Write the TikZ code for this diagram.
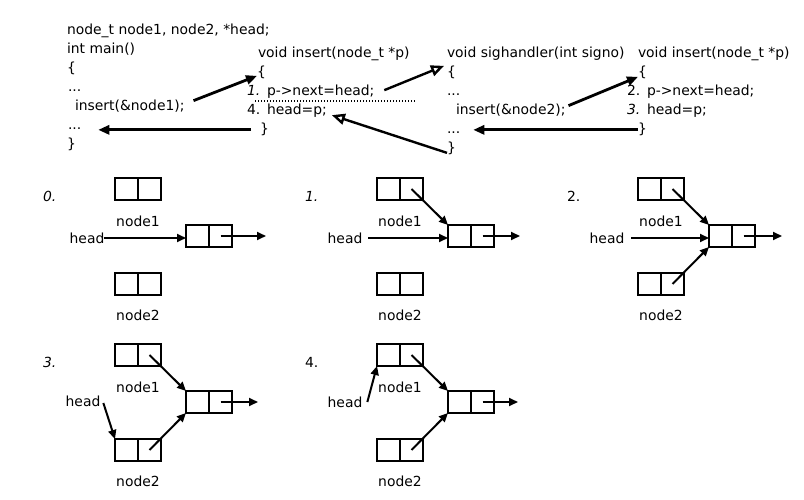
\documentclass[tikz,border=0pt]{standalone}
\usepackage{fontspec}
\setmainfont{DejaVu Sans}
\usetikzlibrary{arrows.meta,calc}
\newcommand\lldiag[3]{%
\begin{scope}[shift={#2}]
  \node[cell] (#1a) at (138,189) {};
  \node[cell] (#1b) at (138,284) {};
  \node[cell] (#1r) at (209,236) {};
  \draw[divider] (#1a.north) -- (#1a.south);
  \draw[divider] (#1b.north) -- (#1b.south);
  \draw[divider] (#1r.north) -- (#1r.south);
  \node[lbl] (#1al) at (138,221) {node1};
  \node[lbl] (#1bl) at (138,315) {node2};
  \coordinate (#1o) at (#3,236);
  \draw[arr] ($(#1r.center)!0.5!(#1r.east)$) -- (#1o);
\end{scope}}
\begin{document}
\begin{tikzpicture}[x=1pt,y=-1pt,
  every node/.style={inner sep=0pt, outer sep=0pt, font=\fontsize{13.9}{16}\selectfont},
  code/.style={anchor=base west},
  cell/.style={draw, line width=2.5pt, minimum width=46pt, minimum height=22pt},
  divider/.style={line width=2.5pt},
  lbl/.style={anchor=center},
  num/.style={anchor=base west, font=\fontsize{13.9}{16}\selectfont\itshape},
  bigarr/.style={line width=2.8pt, -{Triangle[length=11pt,width=9pt]}},
  openarr/.style={line width=2.4pt, -{Triangle[open,length=13pt,width=11pt]}},
  arr/.style={line width=2pt, -{Triangle[length=9pt,width=8pt]}},
]
\useasboundingbox (0,0) rectangle (804,500);
% column 1
\node[code] (c1a) at (67,35) {node\_t node1, node2, *head;};
\node[code] (c1b) at (67,54) {int main()};
\node[code] (bo1) at (67,73) {\{};
\node[code] (d11) at (68,92) {...};
\node[code] (ins1) at (75,111) {insert(\&node1);};
\node[code] (d12) at (68,130) {...};
\node[code] (bc1) at (67,149) {\}};
% column 2
\node[code] (h2) at (258,58) {void insert(node\_t *p)};
\node[code] (bo2) at (257,77) {\{};
\node[num] (n1) at (247,96) {1.};
\node[code] (pn2) at (267,96) {p->next=head;};
\node[code] (n4) at (247,115) {4.};
\node[code] (hp2) at (267,115) {head=p;};
\node[code] (bc2) at (260,134) {\}};
\coordinate (dl1) at (255,101);
\coordinate (dl2) at (415,101);
\draw[line width=1.2pt, dash pattern=on 1.2pt off 1.8pt] (dl1) -- (dl2);
% column 3
\node[code] (h3) at (447,58) {void sighandler(int signo)};
\node[code] (bo3) at (447,77) {\{};
\node[code] (d31) at (447,96) {...};
\node[code] (ins2) at (456,115) {insert(\&node2);};
\node[code] (d32) at (447,134) {...};
\node[code] (bc3) at (447,153) {\}};
% column 4
\node[code] (h4) at (638,58) {void insert(node\_t *p)};
\node[code] (bo4) at (638,77) {\{};
\node[code] (n2) at (627,96) {2.};
\node[code] (pn4) at (647,96) {p->next=head;};
\node[num] (n3) at (627,115) {3.};
\node[code] (hp4) at (647,115) {head=p;};
\node[code] (bc4) at (638,134) {\}};
% top arrows
\draw[bigarr] ([xshift=9pt,yshift=6pt]ins1.east) -- ([yshift=-3pt]bo2.west);
\draw[bigarr] ([xshift=-9pt]bc2.west) -- ($(bc2.west -| d12.east)+(17,0)$);
\draw[openarr] ([xshift=10pt,yshift=2pt]pn2.east) -- ([xshift=-3pt,yshift=7pt]bo3.west);
\draw[openarr] ([yshift=-4pt]bc3.west) -- ([xshift=5pt,yshift=-4pt]hp2.east);
\draw[bigarr] ([xshift=3pt,yshift=5pt]ins2.east) -- ([yshift=-4pt]bo4.west);
\draw[bigarr] (bc4.west) -- ($(bc4.west -| d32.east)+(13,0)$);
% step labels
\node[num] (l0) at (43,202) {0.};
\node[num] (l1) at (305,202) {1.};
\node[code] (l2) at (567,202) {2.};
\node[num] (l3) at (43,367) {3.};
\node[code] (l4) at (305,367) {4.};
% diagram 0
\lldiag{d0}{(0,0)}{266}
\node[lbl] (d0h) at (87,238) {head};
\draw[arr] (d0h.east) -- (d0h.east -| d0r.west);
% diagram 1
\lldiag{d1}{(262,0)}{258}
\node[lbl] (d1h) at (345,238) {head};
\draw[arr] ([xshift=6pt]d1h.east) -- (d1h.east -| d1r.west);
\draw[arr] ($(d1a.center)!0.5!(d1a.east)$) -- (d1r.north west);
% diagram 2
\lldiag{d2}{(523,0)}{259}
\node[lbl] (d2h) at (607,238) {head};
\draw[arr] ([xshift=7pt]d2h.east) -- (d2h.east -| d2r.west);
\draw[arr] ($(d2a.center)!0.5!(d2a.east)$) -- (d2r.north west);
\draw[arr] ($(d2b.center)!0.5!(d2b.east)$) -- (d2r.south west);
% diagram 3
\lldiag{d3}{(0,166)}{258}
\node[lbl] (d3h) at (83,401) {head};
\draw[arr] ([xshift=3pt,yshift=-2pt]d3h.east) -- (d3b.north west);
\draw[arr] ($(d3a.center)!0.5!(d3a.east)$) -- (d3r.north west);
\draw[arr] ($(d3b.center)!0.5!(d3b.east)$) -- (d3r.south west);
% diagram 4
\lldiag{d4}{(262,166)}{256}
\node[lbl] (d4h) at (345,402) {head};
\draw[arr] ([xshift=5pt]d4h.east) -- (d4a.south west);
\draw[arr] ($(d4a.center)!0.5!(d4a.east)$) -- (d4r.north west);
\draw[arr] ($(d4b.center)!0.5!(d4b.east)$) -- (d4r.south west);
\end{tikzpicture}
\end{document}
